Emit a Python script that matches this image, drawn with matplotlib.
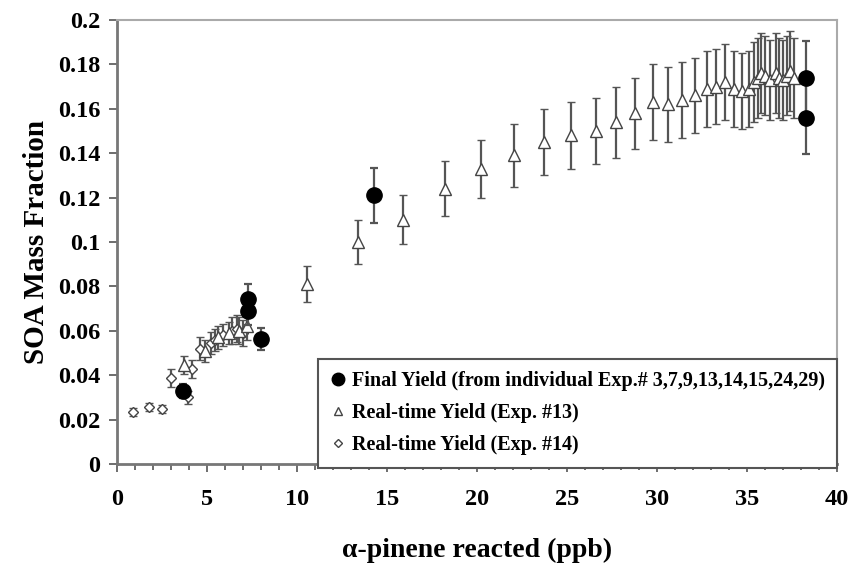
import numpy as np
import matplotlib
matplotlib.use('Agg')
import matplotlib.pyplot as plt
from matplotlib.ticker import MultipleLocator, FuncFormatter
from matplotlib.lines import Line2D

plt.rcParams['font.family'] = ['Liberation Serif', 'DejaVu Serif']
plt.rcParams['font.weight'] = 'bold'

# Final yield (individual experiments)
final_x = [3.67, 7.25, 7.25, 8.0, 14.3, 38.3, 38.3]
final_y = [0.0329, 0.0743, 0.0690, 0.0563, 0.1210, 0.1740, 0.1560]
final_err = [0.003, 0.0070, 0.0065, 0.0050, 0.0125, 0.0165, 0.0165]

# Real-time yield, Exp. #13
exp13_x = [3.7, 4.9, 5.6, 6.2, 6.8, 7.2,
           10.55, 13.4, 15.9, 18.2, 20.2, 22.05, 23.7, 25.2, 26.6, 27.7,
           28.8, 29.8, 30.6, 31.4, 32.1, 32.8, 33.3, 33.8, 34.3, 34.7,
           35.1, 35.4, 35.6, 35.8, 36.0, 36.3, 36.6, 36.8, 37.0, 37.2,
           37.4, 37.6]
exp13_y = [0.0446, 0.0510, 0.0570, 0.0590, 0.0600, 0.0620,
           0.0810, 0.1000, 0.1100, 0.1240, 0.1330, 0.1390, 0.1450, 0.1480,
           0.1500, 0.1540, 0.1580, 0.1630, 0.1620, 0.1640, 0.1660, 0.1690,
           0.1700, 0.1720, 0.1690, 0.1680, 0.1690, 0.1720, 0.1740, 0.1760,
           0.1750, 0.1730, 0.1760, 0.1740, 0.1730, 0.1750, 0.1770, 0.1740]
exp13_err = [0.004, 0.005, 0.005, 0.005, 0.006, 0.006,
             0.008, 0.010, 0.011, 0.0125, 0.013, 0.014, 0.015, 0.015,
             0.015, 0.016, 0.016, 0.017, 0.017, 0.017, 0.017, 0.017,
             0.017, 0.017, 0.017, 0.017, 0.017, 0.018, 0.018, 0.018,
             0.018, 0.018, 0.018, 0.018, 0.018, 0.018, 0.018, 0.018]

# Real-time yield, Exp. #14
exp14_x = [0.9, 1.8, 2.5, 3.0, 3.95, 4.15, 4.6, 5.2, 5.45, 5.9, 6.4, 6.65, 7.0]
exp14_y = [0.0234, 0.0257, 0.0248, 0.0387, 0.0300, 0.0428, 0.0520, 0.0545,
           0.0560, 0.0580, 0.0600, 0.0610, 0.0590]
exp14_err = [0.002, 0.002, 0.002, 0.004, 0.003, 0.004, 0.005, 0.005,
             0.005, 0.005, 0.006, 0.006, 0.006]

labels = ['Final Yield (from individual Exp.# 3,7,9,13,14,15,24,29)',
          'Real-time Yield (Exp. #13)',
          'Real-time Yield (Exp. #14)']

fig = plt.figure(figsize=(8.51, 5.64), dpi=100)
ax = fig.add_axes([0.1375, 0.1773, 0.846, 0.7872])

ebar = dict(ecolor='#555555', elinewidth=1.6, capsize=3, capthick=1.6, linestyle='none')

ax.errorbar(exp14_x, exp14_y, yerr=exp14_err, marker='D', markersize=5,
            markerfacecolor='white', markeredgecolor='#444444', markeredgewidth=1,
            zorder=2, **ebar)
ax.errorbar(exp13_x, exp13_y, yerr=exp13_err, marker='^', markersize=8,
            markerfacecolor='white', markeredgecolor='#444444', markeredgewidth=1,
            zorder=3, **ebar)
ax.errorbar(final_x, final_y, yerr=final_err, marker='o', markersize=11,
            markerfacecolor='black', markeredgecolor='black', zorder=4, **ebar)

ax.set_xlim(0, 40)
ax.set_ylim(0, 0.2)
ax.xaxis.set_major_locator(MultipleLocator(5))
ax.xaxis.set_minor_locator(MultipleLocator(1))
ax.yaxis.set_major_locator(MultipleLocator(0.02))
ax.yaxis.set_major_formatter(FuncFormatter(lambda v, p: '{:g}'.format(round(v, 2))))

ax.tick_params(axis='both', which='major', labelsize=17.5, length=6, width=1.2, color='#555555')
ax.tick_params(axis='x', which='minor', length=4, width=1.2, color='#555555')
ax.tick_params(axis='x', pad=12)
ax.tick_params(axis='y', pad=6)
for lab in ax.get_xticklabels() + ax.get_yticklabels():
    lab.set_fontweight('bold')

for s in ['left', 'bottom']:
    ax.spines[s].set_color('#777777')
    ax.spines[s].set_linewidth(2)
for s in ['top', 'right']:
    ax.spines[s].set_color('#aaaaaa')
    ax.spines[s].set_linewidth(1.5)

ax.set_xlabel('α-pinene reacted (ppb)', fontsize=20, fontweight='bold', labelpad=20)
ax.set_ylabel('SOA Mass Fraction', fontsize=21, fontweight='bold', labelpad=6)

# legend shows markers only
handles = [Line2D([], [], linestyle='none', marker='o', markersize=9,
                  markerfacecolor='black', markeredgecolor='black'),
           Line2D([], [], linestyle='none', marker='^', markersize=6,
                  markerfacecolor='white', markeredgecolor='#444444'),
           Line2D([], [], linestyle='none', marker='D', markersize=4.5,
                  markerfacecolor='white', markeredgecolor='#444444')]
leg = ax.legend(handles, labels, loc='lower right', bbox_to_anchor=(1.0, -0.008),
                borderaxespad=0, fancybox=False, edgecolor='#555555', framealpha=1,
                prop={'family': 'Liberation Serif', 'weight': 'bold', 'size': 14.5},
                handlelength=0.8, handletextpad=0.3, labelspacing=0.6,
                borderpad=0.6)
leg.get_frame().set_linewidth(1.5)

fig.savefig('out.png', dpi=100)
